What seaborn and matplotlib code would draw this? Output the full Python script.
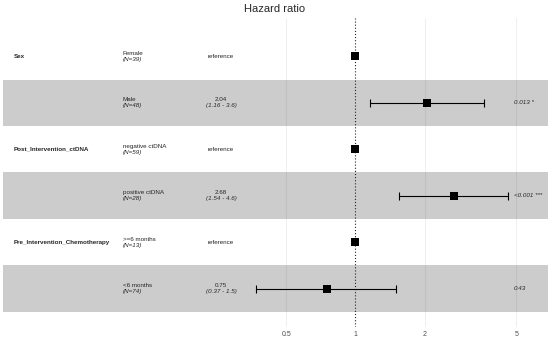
import numpy as np
import pandas as pd
import matplotlib
matplotlib.use('AGG')
import matplotlib.pyplot as plt
import matplotlib.transforms as mtransforms
import seaborn as sns

variables = ["Sex", "", "Post_Intervention_ctDNA", "", "Pre_Intervention_Chemotherapy", ""]
levels = ["Female", "Male", "negative ctDNA", "positive ctDNA", ">=6 months", "<6 months"]
counts = [39, 48, 59, 28, 13, 74]
hr = [1.0, 2.04, 1.0, 2.68, 1.0, 0.75]
ci_low = [np.nan, 1.16, np.nan, 1.54, np.nan, 0.37]
ci_high = [np.nan, 3.6, np.nan, 4.6, np.nan, 1.5]
hr_text = ["reference", "2.04", "reference", "2.68", "reference", "0.75"]
ci_text = ["", "(1.16 - 3.6)", "", "(1.54 - 4.6)", "", "(0.37 - 1.5)"]
pvals = ["", "0.013 *", "", "<0.001 ***", "", "0.43"]
xticks = [0.5, 1, 2, 5]

df = pd.DataFrame({"pos": np.arange(1, 7), "hr": hr, "lo": ci_low, "hi": ci_high})

sns.set_style("white")
plt.rcParams['font.family'] = ['Liberation Sans', 'DejaVu Sans']

fig = plt.figure(figsize=(5.5, 3.39), dpi=100)
ax = fig.add_axes([3 / 550, 12 / 339, 545 / 550, 309 / 339])
ax.set_xscale('log')
ax.set_xlim(0.02947, 6.853)
ax.set_ylim(6.823, 0.177)

# grid + reference line
for t in [0.5, 2, 5]:
    ax.axvline(t, color='#ededed', lw=0.6, zorder=0)
ax.axvline(1, color='#222222', lw=0.8, ls=(0, (1, 1.8)), zorder=3)

# alternating row bands
for p in df["pos"]:
    if p % 2 == 0:
        ax.axhspan(p - 0.5, p + 0.5, color='black', alpha=0.2, lw=0, zorder=1)

# confidence intervals
ci = df.dropna()
ax.errorbar(ci["hr"], ci["pos"], xerr=[ci["hr"] - ci["lo"], ci["hi"] - ci["hr"]],
            fmt='none', ecolor='black', elinewidth=0.8, capsize=3.2, capthick=0.8, zorder=4)
sns.scatterplot(data=df, x="hr", y="pos", marker='s', s=30, color='black',
                linewidth=0, ax=ax, zorder=5, legend=False)

trans = mtransforms.blended_transform_factory(ax.transAxes, ax.transData)
fs = 4.5
for i, p in enumerate(df["pos"]):
    if variables[i]:
        ax.text(0.020, p, variables[i], transform=trans, fontsize=fs,
                fontweight='bold', ha='left', va='center')
    ax.text(0.220, p - 0.015, levels[i], transform=trans, fontsize=fs, ha='left', va='bottom')
    ax.text(0.220, p + 0.015, "(N=%d)" % counts[i], transform=trans, fontsize=fs,
            style='italic', ha='left', va='top')
    if hr_text[i] == "reference":
        ax.text(0.400, p, hr_text[i], transform=trans, fontsize=fs, ha='center', va='center')
    else:
        ax.text(0.400, p - 0.015, hr_text[i], transform=trans, fontsize=fs, ha='center', va='bottom')
        ax.text(0.400, p + 0.015, ci_text[i], transform=trans, fontsize=fs,
                style='italic', ha='center', va='top')
    if pvals[i]:
        ax.text(0.937, p, pvals[i], transform=trans, fontsize=fs, style='italic',
                ha='left', va='center')

ax.set_xticks(xticks)
ax.set_xticklabels([str(t) for t in xticks])
ax.minorticks_off()
ax.set_yticks([])
ax.tick_params(axis='x', length=0, pad=3, labelsize=5, labelcolor='#4d4d4d')
ax.set_xlabel("")
ax.set_ylabel("")
for s in ax.spines.values():
    s.set_visible(False)

fig.text(0.5, 1 - 9 / 339, "Hazard ratio", ha='center', va='center', fontsize=8)

fig.savefig("out.png", dpi=100)
